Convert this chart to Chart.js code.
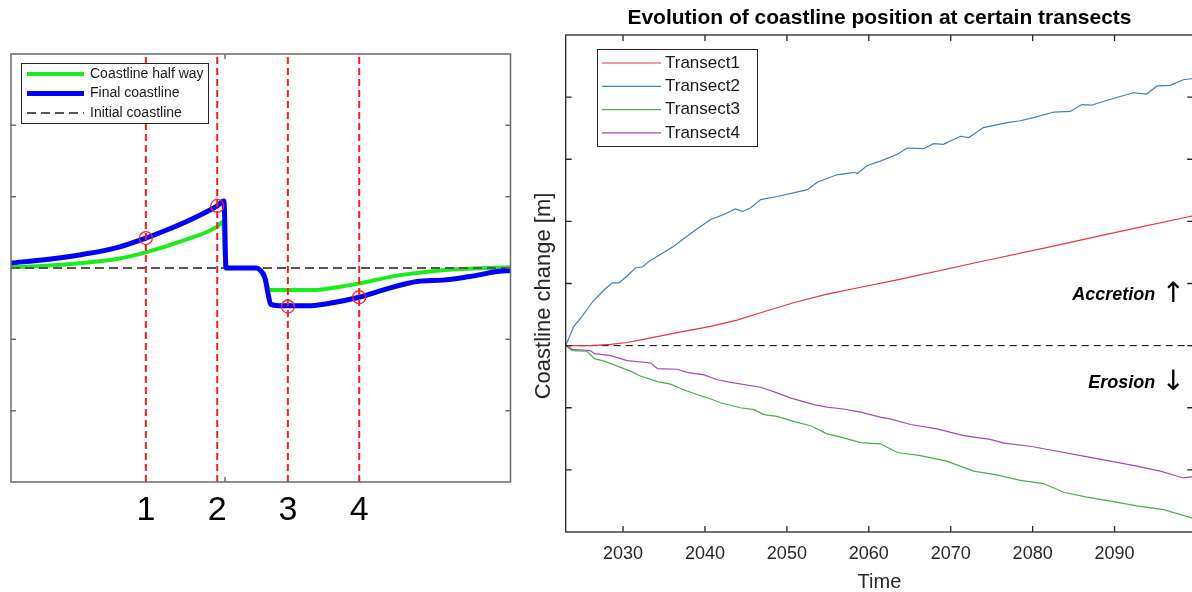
<!DOCTYPE html>
<html>
<head>
<meta charset="utf-8">
<script src="https://cdn.jsdelivr.net/npm/chart.js@4.4.1/dist/chart.umd.min.js"></script>
<style>
  html, body { margin: 0; padding: 0; background: #fff; overflow: hidden; width: 1192px; height: 592px; }
  #profileWrap { position: absolute; left: 0; top: 0; width: 540px; height: 592px; }
  #transectWrap { position: absolute; left: 520px; top: 0; width: 719px; height: 592px; }
</style>
</head>
<body>
<div id="profileWrap"><canvas id="profileChart"></canvas></div>
<div id="transectWrap"><canvas id="transectChart"></canvas></div>
<script>
// ---- left panel: coastline profile along the shore ----
const transectX = [1.89, 2.89, 3.88, 4.88];
const transectLabels = ["1", "2", "3", "4"];
const markerY = [0.42, 0.87, -0.54, -0.41];

const halfwayX = [0, 0.5, 1.0, 1.5, 1.89, 2.4, 2.89, 2.97, 3.01, 3.45, 3.5, 3.56, 3.62, 4.2, 4.75, 5.45, 6.05, 7.0];
const halfwayY = [0.01, 0.03, 0.07, 0.13, 0.22, 0.38, 0.58, 0.65, 0.0, 0.0, -0.03, -0.17, -0.31, -0.31, -0.24, -0.1, -0.03, 0.01];

const finalX = [0, 0.5, 1.0, 1.5, 1.89, 2.2, 2.5, 2.89, 2.985, 3.013, 3.44, 3.49, 3.56, 3.6, 3.64, 3.81, 4.15, 4.43, 4.88, 5.21, 5.69, 6.05, 6.43, 6.95, 7.0];
const finalY = [0.07, 0.12, 0.19, 0.29, 0.42, 0.54, 0.67, 0.87, 0.94, 0.0, 0.0, -0.03, -0.14, -0.35, -0.51, -0.53, -0.53, -0.5, -0.41, -0.31, -0.19, -0.17, -0.12, -0.04, -0.04];

const initialX = [0, 7];
const profileYTicks = [-2, -1, 0, 1, 2];
const profileXTicks = [3];

// ---- right panel: coastline change per transect ----
const t1Year = [2023.0, 2026.0, 2028.5, 2030.5, 2032.5, 2036.6, 2040.7, 2043.9, 2046.8, 2050.8, 2054.9, 2059.0, 2063.9, 2073.6, 2082.1, 2090.7, 2099.6];
const t1Change = [0, 0, 0.2, 0.5, 1.0, 2.1, 3.1, 4.1, 5.3, 6.9, 8.3, 9.4, 10.7, 13.5, 15.9, 18.4, 20.9];

const t2Year = [2023.0, 2024.0, 2025.0, 2026.3, 2027.7, 2028.7, 2029.5, 2030.5, 2031.5, 2032.4, 2033.2, 2034.6, 2036.2, 2037.8, 2039.5, 2040.7, 2042.3, 2043.7, 2044.6, 2045.6, 2046.8, 2048.8, 2050.8, 2052.5, 2053.7, 2056.1, 2058.2, 2058.6, 2059.8, 2061.4, 2063.5, 2064.7, 2066.7, 2067.9, 2069.1, 2071.2, 2072.2, 2074.0, 2076.9, 2078.5, 2080.1, 2082.6, 2084.6, 2086.0, 2087.2, 2089.1, 2090.7, 2092.3, 2093.9, 2095.2, 2096.8, 2098.4, 2099.6];
const t2Change = [0, 3.1, 4.7, 7.1, 9.0, 10.1, 10.1, 11.2, 12.5, 12.7, 13.6, 14.7, 16.0, 17.6, 19.2, 20.3, 21.1, 22.0, 21.6, 22.2, 23.5, 24.0, 24.6, 25.1, 26.3, 27.5, 27.9, 27.7, 29.0, 29.7, 30.8, 31.8, 31.7, 32.5, 32.4, 33.7, 33.5, 35.1, 35.9, 36.2, 36.7, 37.6, 37.7, 38.8, 38.7, 39.5, 40.1, 40.7, 40.5, 41.8, 41.9, 42.8, 43.0];

const t3Year = [2023.0, 2023.8, 2025.6, 2026.5, 2027.7, 2029.3, 2030.9, 2032.1, 2034.2, 2035.8, 2037.4, 2039.1, 2040.3, 2041.9, 2044.3, 2046.0, 2047.2, 2048.8, 2050.8, 2052.9, 2054.9, 2056.5, 2059.0, 2061.4, 2063.5, 2066.3, 2069.5, 2072.8, 2075.6, 2078.5, 2081.3, 2083.8, 2086.6, 2089.9, 2092.7, 2096.0, 2099.6];
const t3Change = [0, -0.8, -0.9, -2.1, -2.5, -3.3, -4.1, -4.9, -5.8, -6.2, -7.1, -7.9, -8.4, -9.2, -10.0, -10.3, -11.1, -11.4, -12.2, -12.9, -14.2, -14.7, -15.6, -15.8, -17.2, -17.7, -18.6, -20.2, -20.8, -21.7, -22.2, -23.6, -24.4, -25.1, -25.8, -26.4, -27.8];

const t4Year = [2023.0, 2023.8, 2026.0, 2026.5, 2028.5, 2030.5, 2033.4, 2034.2, 2036.6, 2037.8, 2039.9, 2041.5, 2043.5, 2046.8, 2048.8, 2050.4, 2053.3, 2054.9, 2056.9, 2059.0, 2061.4, 2062.6, 2065.1, 2068.3, 2071.6, 2074.8, 2076.5, 2079.7, 2083.0, 2086.2, 2089.5, 2092.7, 2095.6, 2098.4, 2099.6];
const t4Change = [0, -0.6, -0.8, -1.3, -1.6, -2.4, -2.8, -3.7, -3.8, -4.3, -4.7, -5.5, -6.0, -6.7, -7.6, -8.4, -9.5, -9.9, -10.2, -10.7, -11.5, -11.8, -12.7, -13.4, -14.5, -15.1, -15.7, -16.2, -17.0, -17.8, -18.6, -19.4, -20.2, -21.3, -21.1];

const baselineYears = [2023, 2100];
const yearTicks = [2030, 2040, 2050, 2060, 2070, 2080, 2090];
const changeTicks = [-20, -10, 0, 10, 20, 30, 40];
const noteText = ["Accretion", "Erosion"];
const noteArrow = ["\u2191", "\u2193"];
const noteY = [8.2, -6.0];
const changeAxisLabel = "Coastline change [m]";

Chart.defaults.font.family = "'Liberation Sans', Arial, sans-serif";
Chart.defaults.animation = false;

const pairs = (xs, ys) => xs.map((x, i) => ({ x: x, y: ys[i] }));

// MATLAB-like box with inward tick marks
const frameTicks = {
  id: "frameTicks",
  afterDatasetsDraw(chart, args, opts) {
    const { ctx, chartArea: a, scales } = chart;
    ctx.save();
    ctx.strokeStyle = opts.color;
    ctx.lineWidth = opts.width;
    ctx.beginPath();
    opts.xTicks.forEach((v) => {
      const px = scales.x.getPixelForValue(v);
      ctx.moveTo(px, a.bottom);
      ctx.lineTo(px, a.bottom - opts.len);
      ctx.moveTo(px, a.top);
      ctx.lineTo(px, a.top + opts.len);
    });
    opts.yTicks.forEach((v) => {
      const py = scales.y.getPixelForValue(v);
      ctx.moveTo(a.left, py);
      ctx.lineTo(a.left + opts.len, py);
      ctx.moveTo(a.right, py);
      ctx.lineTo(a.right - opts.len, py);
    });
    ctx.stroke();
    ctx.strokeRect(a.left, a.top, a.width, a.height);
    ctx.restore();
  },
};

// legend drawn inside a bordered white box
const boxLegend = {
  id: "boxLegend",
  afterDraw(chart, args, opts) {
    if (!opts.items) return;
    const { ctx } = chart;
    ctx.save();
    ctx.fillStyle = "#fff";
    ctx.fillRect(opts.left, opts.top, opts.width, opts.height);
    ctx.strokeStyle = "#262626";
    ctx.lineWidth = 1;
    ctx.strokeRect(opts.left + 0.5, opts.top + 0.5, opts.width, opts.height);
    ctx.font = opts.font;
    ctx.textBaseline = "middle";
    opts.items.forEach((di, i) => {
      const ds = chart.data.datasets[di];
      const y = opts.firstRow + i * opts.rowGap;
      ctx.strokeStyle = ds.borderColor;
      ctx.lineWidth = ds.borderWidth;
      ctx.setLineDash(ds.borderDash || []);
      ctx.beginPath();
      ctx.moveTo(opts.sampleX, y);
      ctx.lineTo(opts.sampleX + opts.sampleW, y);
      ctx.stroke();
      ctx.setLineDash([]);
      ctx.fillStyle = "#1a1a1a";
      ctx.fillText(ds.label, opts.textX, y);
    });
    ctx.restore();
  },
};

// "Accretion" / "Erosion" notes near the right edge, plus the y label
const sideNotes = {
  id: "sideNotes",
  afterDatasetsDraw(chart, args, opts) {
    if (!opts.show) return;
    const { ctx, chartArea: a, scales } = chart;
    ctx.save();
    ctx.fillStyle = "#000";
    ctx.textBaseline = "middle";
    noteText.forEach((t, i) => {
      const py = scales.y.getPixelForValue(noteY[i]);
      ctx.textAlign = "right";
      ctx.font = "italic bold 18px 'Liberation Sans', Arial, sans-serif";
      ctx.fillText(t, a.right - 38, py);
      ctx.textAlign = "center";
      ctx.font = "28px 'DejaVu Sans', sans-serif";
      ctx.fillText(noteArrow[i], a.right - 20, py);
    });
    // y axis label, rotated
    ctx.translate(opts.labelX, opts.labelY);
    ctx.rotate(-Math.PI / 2);
    ctx.textAlign = "center";
    ctx.fillStyle = "#262626";
    ctx.font = "22px 'Liberation Sans', Arial, sans-serif";
    ctx.fillText(changeAxisLabel, 0, 0);
    ctx.restore();
  },
};

const profileLines = transectX.map((x) => ({
  label: "transect",
  data: [{ x: x, y: -3 }, { x: x, y: 3 }],
  borderColor: "#ff1a1a",
  borderWidth: 2,
  borderDash: [7, 4],
  pointRadius: 0,
}));

new Chart(document.getElementById("profileChart"), {
  type: "line",
  data: {
    datasets: [
      {
        label: "markers",
        data: pairs(transectX, markerY),
        showLine: false,
        pointStyle: "circle",
        pointRadius: 6.5,
        borderWidth: 1.3,
        pointBorderColor: "#ff2020",
        pointBackgroundColor: "rgba(0,0,0,0)",
      },
      ...profileLines,
      {
        label: "Final coastline",
        data: pairs(finalX, finalY),
        borderColor: "#0000ff",
        borderWidth: 5,
        pointRadius: 0,
        cubicInterpolationMode: "monotone",
      },
      {
        label: "Initial coastline",
        data: pairs(initialX, [0, 0]),
        borderColor: "#555555",
        borderWidth: 2,
        borderDash: [9, 5],
        pointRadius: 0,
      },
      {
        label: "Coastline half way",
        data: pairs(halfwayX, halfwayY),
        borderColor: "#1aee1a",
        borderWidth: 4,
        pointRadius: 0,
        cubicInterpolationMode: "monotone",
      },
    ],
  },
  options: {
    responsive: true,
    maintainAspectRatio: false,
    layout: { padding: { left: 11, right: 29.5, top: 54, bottom: 0 } },
    plugins: {
      legend: { display: false },
      tooltip: { enabled: false },
      frameTicks: { color: "#6b6b6b", width: 1.5, len: 5, xTicks: profileXTicks, yTicks: profileYTicks },
      boxLegend: {
        left: 21, top: 63, width: 187, height: 60,
        firstRow: 74, rowGap: 19.5, sampleX: 27, sampleW: 57, textX: 90,
        font: "14px 'Liberation Sans', Arial, sans-serif",
        items: [7, 5, 6],
      },
      sideNotes: { show: false },
    },
    scales: {
      x: {
        type: "linear",
        min: 0,
        max: 7,
        grid: { display: false, drawTicks: false },
        border: { display: false },
        afterBuildTicks: (scale) => { scale.ticks = transectX.map((v) => ({ value: v })); },
        afterFit: (scale) => { scale.height = 110; },
        ticks: {
          color: "#000",
          font: { size: 34 },
          padding: 8,
          maxRotation: 0,
          autoSkip: false,
          callback: (v, i) => transectLabels[i],
        },
      },
      y: { type: "linear", min: -3, max: 3, display: false },
    },
  },
  plugins: [frameTicks, boxLegend, sideNotes],
});

new Chart(document.getElementById("transectChart"), {
  type: "line",
  data: {
    datasets: [
      { label: "Transect1", data: pairs(t1Year, t1Change), borderColor: "#e8353a", borderWidth: 1.2, pointRadius: 0 },
      { label: "Transect2", data: pairs(t2Year, t2Change), borderColor: "#3f7fc4", borderWidth: 1.2, pointRadius: 0 },
      { label: "Transect3", data: pairs(t3Year, t3Change), borderColor: "#4cae4c", borderWidth: 1.2, pointRadius: 0 },
      { label: "Transect4", data: pairs(t4Year, t4Change), borderColor: "#a24ab6", borderWidth: 1.2, pointRadius: 0 },
      {
        label: "zero",
        data: pairs(baselineYears, [0, 0]),
        borderColor: "#000",
        borderWidth: 1,
        borderDash: [7, 5],
        pointRadius: 0,
      },
    ],
  },
  options: {
    responsive: true,
    maintainAspectRatio: false,
    layout: { padding: { left: 45.7, right: 45.8, top: 0, bottom: 0 } },
    plugins: {
      legend: { display: false },
      tooltip: { enabled: false },
      title: {
        display: true,
        text: "Evolution of coastline position at certain transects",
        color: "#000",
        font: { size: 21, weight: "bold" },
        padding: { top: 6, bottom: 3.8 },
      },
      frameTicks: { color: "#262626", width: 1.3, len: 6, xTicks: yearTicks, yTicks: changeTicks },
      boxLegend: {
        left: 77, top: 49, width: 160, height: 97,
        firstRow: 63, rowGap: 23.3, sampleX: 82, sampleW: 59, textX: 145,
        font: "17px 'Liberation Sans', Arial, sans-serif",
        items: [0, 1, 2, 3],
      },
      sideNotes: { show: true, labelX: 24, labelY: 296 },
    },
    scales: {
      x: {
        type: "linear",
        min: 2023,
        max: 2099.6,
        grid: { display: false, drawTicks: false },
        border: { display: false },
        afterBuildTicks: (scale) => { scale.ticks = yearTicks.map((v) => ({ value: v })); },
        afterFit: (scale) => { scale.height = 60; },
        ticks: {
          color: "#262626",
          font: { size: 18 },
          padding: 11,
          maxRotation: 0,
          autoSkip: false,
          callback: (v) => String(v),
        },
        title: {
          display: true,
          text: "Time",
          color: "#262626",
          font: { size: 20, lineHeight: 1 },
          padding: { top: 0, bottom: 0 },
        },
      },
      y: { type: "linear", min: -30, max: 50, display: false },
    },
  },
  plugins: [frameTicks, boxLegend, sideNotes],
});
</script>
</body>
</html>
